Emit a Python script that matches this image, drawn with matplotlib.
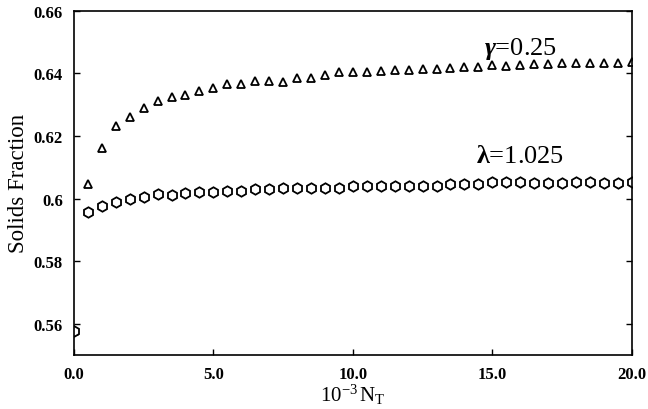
import matplotlib
matplotlib.use("Agg")
import matplotlib.pyplot as plt

plt.rcParams['font.family'] = ['Liberation Serif', 'DejaVu Serif']
plt.rcParams['mathtext.fontset'] = 'custom'
plt.rcParams['mathtext.rm'] = 'Liberation Serif'
plt.rcParams['mathtext.it'] = 'Liberation Serif:italic'
plt.rcParams['mathtext.bf'] = 'Liberation Serif:bold'
plt.rcParams['mathtext.bfit'] = 'Liberation Serif:italic:bold'

# 10^-3 N_T
n_t = [0.0, 0.5, 1.0, 1.5, 2.0, 2.5, 3.0, 3.5, 4.0, 4.5, 5.0,
       5.5, 6.0, 6.5, 7.0, 7.5, 8.0, 8.5, 9.0, 9.5, 10.0,
       10.5, 11.0, 11.5, 12.0, 12.5, 13.0, 13.5, 14.0, 14.5, 15.0,
       15.5, 16.0, 16.5, 17.0, 17.5, 18.0, 18.5, 19.0, 19.5, 20.0]

# gamma = 0.25 (triangles)
gamma_sf = [0.5577, 0.6046, 0.6161, 0.6233, 0.6262, 0.6290, 0.6313, 0.6324, 0.6331, 0.6345, 0.6354,
            0.6366, 0.6366, 0.6375, 0.6375, 0.6372, 0.6386, 0.6386, 0.6396, 0.6404, 0.6404,
            0.6403, 0.6409, 0.6410, 0.6412, 0.6414, 0.6414, 0.6417, 0.6420, 0.6422, 0.6426,
            0.6423, 0.6427, 0.6430, 0.6430, 0.6434, 0.6432, 0.6433, 0.6434, 0.6434, 0.6436]

# lambda = 1.025 (hexagons)
lambda_sf = [0.5577, 0.5956, 0.5977, 0.5990, 0.5998, 0.6006, 0.6013, 0.6012, 0.6018, 0.6022, 0.6022,
             0.6025, 0.6025, 0.6030, 0.6030, 0.6033, 0.6033, 0.6033, 0.6033, 0.6033, 0.6039,
             0.6039, 0.6041, 0.6041, 0.6041, 0.6041, 0.6041, 0.6046, 0.6046, 0.6046, 0.6052,
             0.6052, 0.6052, 0.6050, 0.6050, 0.6050, 0.6052, 0.6052, 0.6050, 0.6050, 0.6052]

xticks = [0.0, 5.0, 10.0, 15.0, 20.0]
xticklabels = ['0.0', '5.0', '10.0', '15.0', '20.0']
yticks = [0.56, 0.58, 0.60, 0.62, 0.64, 0.66]
yticklabels = ['0.56', '0.58', '0.6', '0.62', '0.64', '0.66']

fig = plt.figure(figsize=(6.48, 4.10), dpi=100)
ax = fig.add_axes([0.114, 0.132, 0.861, 0.839])

ax.plot(n_t, gamma_sf, linestyle='none', marker='^', markersize=6,
        markerfacecolor='white', markeredgecolor='black', markeredgewidth=1.3)
ax.plot(n_t, lambda_sf, linestyle='none', marker='h', markersize=7.5,
        markerfacecolor='white', markeredgecolor='black', markeredgewidth=1.3)

ax.text(16.0, 0.6462, r'$\mathbfit{\gamma}$=0.25', ha='center', va='baseline', fontsize=19)
ax.text(16.0, 0.6117, r'$\mathbf{\lambda}$=1.025', ha='center', va='baseline', fontsize=19)

ax.set_xlim(0, 20)
ax.set_ylim(0.55, 0.66)
ax.set_xticks(xticks)
ax.set_xticklabels(xticklabels, fontsize=12, fontweight='bold')
ax.set_yticks(yticks)
ax.set_yticklabels(yticklabels, fontsize=12, fontweight='bold')
ax.tick_params(direction='in', length=4, width=1, right=True, top=False, pad=8)

ax.set_xlabel(r'$10^{-3}\,\mathrm{N_T}$', fontsize=15, labelpad=0)
ax.set_ylabel('Solids Fraction', fontsize=16.5, labelpad=3)

for s in ax.spines.values():
    s.set_linewidth(1.2)

plt.savefig('out.png', dpi=100)
